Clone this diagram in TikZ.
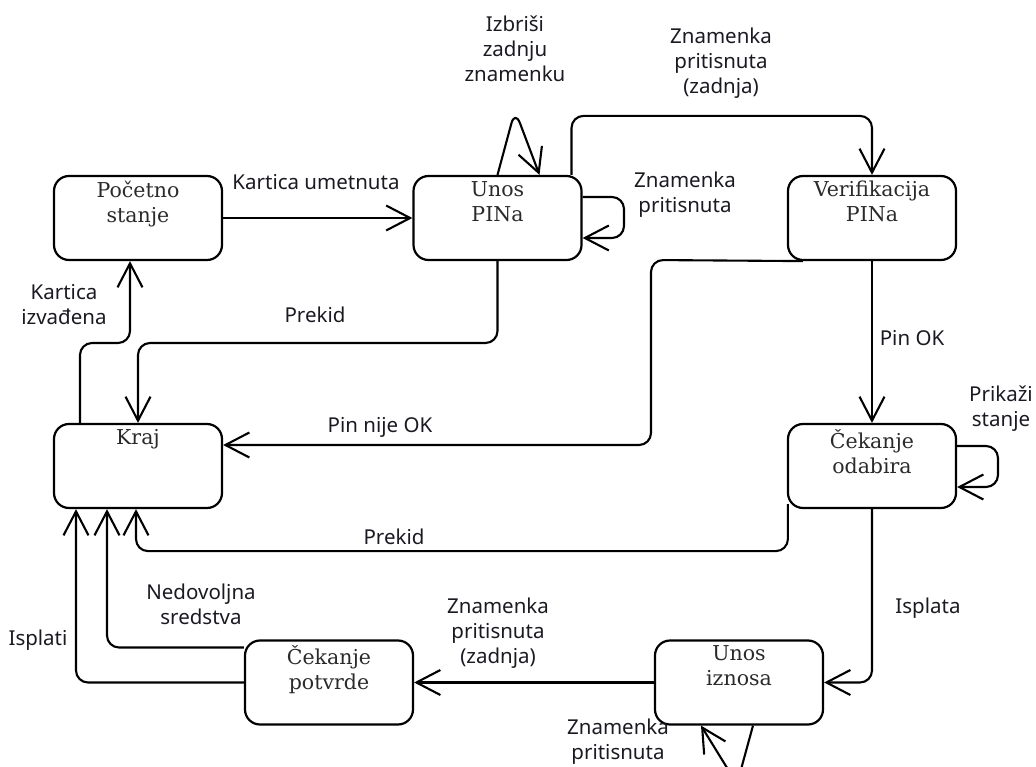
\documentclass[tikz,border=0pt]{standalone}
\usepackage{fontspec}
\setmainfont{DejaVu Serif}
\newfontfamily\lblfont{Noto Sans}
\usetikzlibrary{arrows.meta,calc}
\definecolor{lblcol}{HTML}{1A1A22}
\definecolor{txtgray}{HTML}{2A2A2A}
\begin{document}
\begin{tikzpicture}[x=1pt,y=-1pt,
  state/.style={draw=black, line width=2.2pt, rounded corners=15pt, minimum width=168pt, minimum height=84pt, inner sep=0pt},
  stxt/.style={anchor=north, align=center, inner sep=0pt, font=\fontsize{20.5}{25}\selectfont, text=txtgray},
  lbl/.style={align=center, inner sep=0pt, font=\lblfont\fontsize{20.5}{25}\selectfont, text=lblcol},
  conn/.style={draw=black, line width=2.1pt, rounded corners=12pt, line join=round,
    -{Straight Barb[length=24pt,width=25pt,line width=2.1pt]}},
]
\useasboundingbox[fill=white] (0,0) rectangle (1036,767);

% states
\node[state] (p)  at (138,218) {};
\node[state] (u)  at (497.5,218) {};
\node[state] (v)  at (872,218) {};
\node[state] (k)  at (138,466) {};
\node[state] (o)  at (872,466) {};
\node[state] (cp) at (329,682.5) {};
\node[state] (ui) at (739,682.5) {};

\node[stxt] (pt)  at ([yshift=-6pt]p.north)  {Početno\\stanje};
\node[stxt] (ut)  at ([yshift=-6pt]u.north)  {Unos\\PINa};
\node[stxt] (vt)  at ([yshift=-6pt]v.north)  {Verifikacija\\PINa};
\node[stxt] (kt)  at ([yshift=-6pt]k.north)  {Kraj};
\node[stxt] (ot)  at ([yshift=-6pt]o.north)  {Čekanje\\odabira};
\node[stxt] (cpt) at ([yshift=-6pt]cp.north) {Čekanje\\potvrde};
\node[stxt] (uit) at ([yshift=-6pt]ui.north) {Unos\\iznosa};

% connectors
\draw[conn] (p.east) -- (u.west);
\draw[conn, rounded corners=14pt] (u.north) -- (515,110) -- ([xshift=42pt]u.north);
\draw[conn] ([yshift=21pt]u.east) -- (624,197) -- (624,238) -- ([yshift=-20pt]u.east);
\draw[conn] ([xshift=74pt]u.north) -- ++(0,-59) -| (v.north);
\draw[conn] ([xshift=16pt]v.south west) -- (651,260) -- (651,445) -- ([yshift=21pt]k.east);
\draw[conn] (u.south) -- (497.5,343) -| (k.north);
\draw[conn] ([xshift=-58pt]k.north) -- (80,343) -- (130,343) -- ([xshift=-8pt]p.south);
\draw[conn] (v.south) -- (o.north);
\draw[conn] ([yshift=20pt]o.east) -- (998,446) -- (998,487) -- ([yshift=-21pt]o.east);
\draw[conn] ([xshift=1pt,yshift=5pt]o.south west) -- ++(0,47) -| ([xshift=-2pt]k.south);
\draw[conn] (o.south) |- (ui.east);
\draw[conn] (ui.west) -- (cp.east);
\draw[conn, rounded corners=12pt] ([xshift=14pt]ui.south) -- (737,784) -- ([xshift=-38pt]ui.south);
\draw[conn] ([yshift=35pt]cp.west) -| ([xshift=-31pt]k.south);
\draw[conn] (cp.west) -| ([xshift=-62pt]k.south);

% labels
\node[lbl] (l1)  at (316,182) {Kartica umetnuta};
\node[lbl] (l2)  at (515,49)  {Izbriši\\zadnju\\znamenku};
\node[lbl] (l3)  at (721,63)  {Znamenka\\pritisnuta\\(zadnja)};
\node[lbl] (l4)  at (685,195) {Znamenka\\pritisnuta};
\node[lbl] (l5)  at (315,315) {Prekid};
\node[lbl] (l6)  at (64,305)  {Kartica\\izvađena};
\node[lbl] (l7)  at (380,427) {Pin nije OK};
\node[lbl] (l8)  at (912,338) {Pin OK};
\node[lbl] (l9)  at (1001,409) {Prikaži\\stanje};
\node[lbl] (l10) at (394,537) {Prekid};
\node[lbl] (l11) at (928,608) {Isplata};
\node[lbl] (l12) at (498,633) {Znamenka\\pritisnuta\\(zadnja)};
\node[lbl] (l13) at (201,604) {Nedovoljna\\sredstva};
\node[lbl] (l14) at (38,640)  {Isplati};
\node[lbl] (l15) at (618,742) {Znamenka\\pritisnuta};
\end{tikzpicture}
\end{document}
